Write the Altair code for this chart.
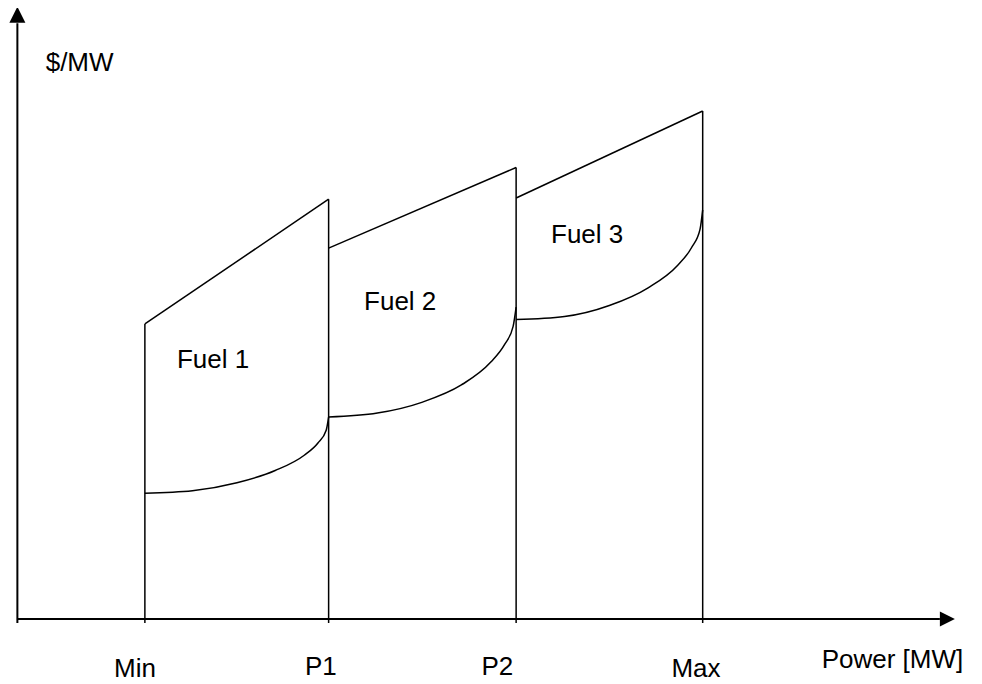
import altair as alt
import pandas as pd

# ---- values (schematic units) ----
power_labels = ["Min", "P1", "P2", "Max"]
power_pos = [68, 166, 266, 365.5]          # MW position of each boundary
boundary_top = [48.3, 68.7, 73.9, 83.15]    # $/MW where each vertical line ends

fuel_names = ["Fuel 1", "Fuel 2", "Fuel 3"]
top_x_start = [68, 166, 266]
top_x_end = [166, 266, 365.5]
top_y_start = [48.3, 60.7, 68.9]
top_y_end = [68.7, 73.9, 83.15]

curve1_x = [68, 93.4, 117.1, 137.5, 153.0, 160.3, 164.7, 166]
curve1_y = [20.6, 21.0, 22.3, 24.3, 26.8, 28.8, 30.9, 33.05]
curve2_x = [166, 192.0, 216.1, 236.8, 252.5, 259.8, 264.4, 266]
curve2_y = [33.05, 33.7, 35.5, 38.3, 42.05, 44.9, 47.9, 51.05]
curve3_x = [266, 291.8, 315.7, 336.4, 352.2, 359.6, 364.1, 365.5]
curve3_y = [49.0, 49.5, 51.3, 54.2, 57.9, 60.8, 63.8, 66.95]

fuel_label_x = [85.1, 184.9, 284.6]
fuel_label_y = [41.1, 50.6, 61.5]

tick_label_x = [62.7, 161.9, 256.0, 361.9]
tick_label_y = [-9.45, -9.1, -9.1, -9.45]

y_title = "$/MW"
y_title_pos = [15.1, 89.7]
x_title = "Power [MW]"
x_title_pos = [466.7, -8.0]

axis_x_end = 492
axis_y_end = 97.5
tick_below = -0.65
x_arrow = [496]
y_arrow = [98.9]

x_domain = [-5, 507]
y_domain = [-10.64, 100]

FONT = "Liberation Sans"
FS = 26


def X(f="x"):
    return alt.X(f, type="quantitative", scale=alt.Scale(domain=x_domain, nice=False, zero=False), axis=None)


def Y(f="y"):
    return alt.Y(f, type="quantitative", scale=alt.Scale(domain=y_domain, nice=False, zero=False), axis=None)


# segments: vertical boundaries, top lines, axes
seg_rows = []
for p, t in zip(power_pos, boundary_top):
    seg_rows.append(dict(x=p, x2=p, y=tick_below, y2=t, w=1.5))
for a, b, c, d in zip(top_x_start, top_x_end, top_y_start, top_y_end):
    seg_rows.append(dict(x=a, x2=b, y=c, y2=d, w=1.5))
seg_rows.append(dict(x=0, x2=0, y=tick_below, y2=axis_y_end, w=2))
seg_rows.append(dict(x=0, x2=axis_x_end, y=0, y2=0, w=2))
segs = pd.DataFrame(seg_rows)

rules = alt.Chart(segs).mark_rule(color="black").encode(
    x=X("x"), x2="x2", y=Y("y"), y2="y2",
    strokeWidth=alt.StrokeWidth("w:Q", scale=None),
)

curve_rows = []
for name, xs, ys in zip(fuel_names, [curve1_x, curve2_x, curve3_x], [curve1_y, curve2_y, curve3_y]):
    for i, (a, b) in enumerate(zip(xs, ys)):
        curve_rows.append(dict(fuel=name, x=a, y=b, o=i))
curves_df = pd.DataFrame(curve_rows)

curves = alt.Chart(curves_df).mark_line(color="black", strokeWidth=1.5, interpolate="monotone").encode(
    x=X("x"), y=Y("y"), detail="fuel:N", order="o:Q"
)

up_arrow = alt.Chart(pd.DataFrame(dict(x=[0], y=y_arrow))).mark_point(
    shape="M0,-1L1,1L-1,1Z", size=256, filled=True, color="black", opacity=1, strokeWidth=0
).encode(x=X("x"), y=Y("y"))

right_arrow = alt.Chart(pd.DataFrame(dict(x=x_arrow, y=[0]))).mark_point(
    shape="M1,0L-1,-1L-1,1Z", size=225, filled=True, color="black", opacity=1, strokeWidth=0
).encode(x=X("x"), y=Y("y"))

fuel_text = alt.Chart(pd.DataFrame(dict(x=fuel_label_x, y=fuel_label_y, t=fuel_names))).mark_text(
    font=FONT, fontSize=FS, align="left", baseline="alphabetic", color="black"
).encode(x=X("x"), y=Y("y"), text="t:N")

tick_text = alt.Chart(pd.DataFrame(dict(x=tick_label_x, y=tick_label_y, t=power_labels))).mark_text(
    font=FONT, fontSize=FS, align="center", baseline="alphabetic", color="black"
).encode(x=X("x"), y=Y("y"), text="t:N")

y_title_text = alt.Chart(pd.DataFrame(dict(x=[y_title_pos[0]], y=[y_title_pos[1]], t=[y_title]))).mark_text(
    font=FONT, fontSize=FS, align="left", baseline="alphabetic", color="black"
).encode(x=X("x"), y=Y("y"), text="t:N")

x_title_text = alt.Chart(pd.DataFrame(dict(x=[x_title_pos[0]], y=[x_title_pos[1]], t=[x_title]))).mark_text(
    font=FONT, fontSize=FS, align="center", baseline="alphabetic", color="black"
).encode(x=X("x"), y=Y("y"), text="t:N")

chart = alt.layer(rules, curves, up_arrow, right_arrow, fuel_text, tick_text, y_title_text, x_title_text).properties(
    width=960, height=676, padding=0,
    autosize=alt.AutoSizeParams(type="none"),
).configure_view(stroke=None)

chart.save("out.html", embed_options={"renderer": "svg", "actions": False})
